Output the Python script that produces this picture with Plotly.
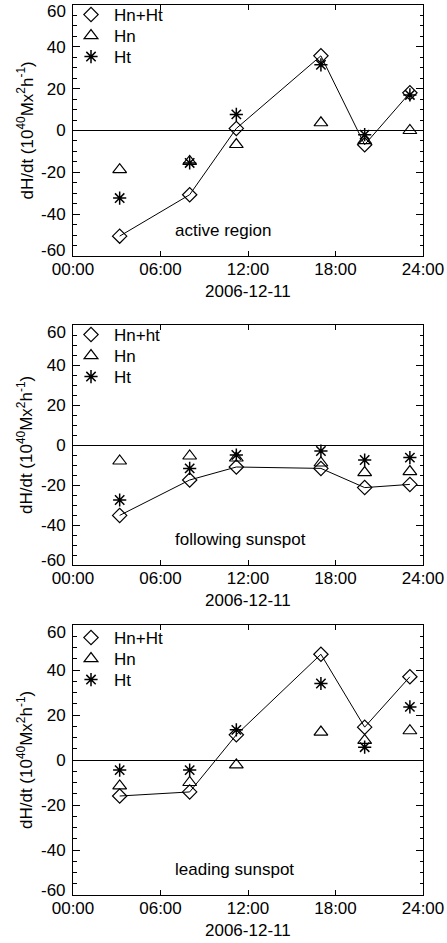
import plotly.graph_objects as go

# time of each measurement, hours after 2006-12-11 00:00
hours = [3.2, 8.0, 11.2, 17.0, 20.0, 23.1]

# active region
ar_sum = [-50.5, -30.7, 1.0, 35.7, -6.8, 18.0]
ar_hn = [-18.7, -14.8, -6.7, 3.7, -4.8, 0.0]
ar_ht = [-32.3, -15.5, 7.7, 31.4, -2.0, 17.0]

# following sunspot
fs_sum = [-35.2, -17.5, -11.0, -11.7, -21.3, -19.7]
fs_hn = [-8.0, -5.5, -6.5, -9.0, -13.8, -13.3]
fs_ht = [-27.5, -11.7, -5.0, -3.0, -7.5, -6.3]

# leading sunspot
ls_sum = [-16.0, -14.2, 11.2, 47.0, 14.6, 37.0]
ls_hn = [-11.5, -10.0, -2.2, 12.4, 8.7, 13.0]
ls_ht = [-4.5, -4.5, 13.4, 34.0, 5.7, 23.6]

x_ticks = [0, 6, 12, 18, 24]
x_ticklabels = ["00:00", "06:00", "12:00", "18:00", "24:00"]
y_ticks = [-40, -20, 0, 20, 40]
y_ticklabels = ["-40", "-20", "0", "20", "40"]
# end labels of the y range, drawn pulled inward as in the original
y_end_ticks = [60, -60]
y_end_ticklabels = ["60", "-60"]
date_label = "2006-12-11"
y_title = "dH/dt (10<sup>40</sup>Mx<sup>2</sup>h<sup>-1</sup>)"

panels = [
    dict(sum=ar_sum, hn=ar_hn, ht=ar_ht, sumname="Hn+Ht", label="active region"),
    dict(sum=fs_sum, hn=fs_hn, ht=fs_ht, sumname="Hn+ht", label="following sunspot"),
    dict(sum=ls_sum, hn=ls_hn, ht=ls_ht, sumname="Hn+Ht", label="leading sunspot"),
]

W, H = 447, 943
FONT = "Arial, 'Liberation Sans', sans-serif"
# pixel boxes (left, top, right, bottom) of each plot frame
boxes = [(73, 5, 423, 256), (73, 325, 423, 565), (73, 625, 423, 895)]
LEG_ROWS = [10, 31, 52]  # legend row centres, px below each frame top
LEG_SHIFT = [0, 0, 3]


def px(xs):
    return xs / W


def py(ys):
    return 1 - ys / H


fig = go.Figure()
annotations = []
leg_idx = 0
for i, (p, box) in enumerate(zip(panels, boxes)):
    n = "" if i == 0 else str(i + 1)
    xa, ya = "x" + n, "y" + n
    l, t, r, b = box

    legs = []
    for k in range(3):
        leg_idx += 1
        name = "legend" if leg_idx == 1 else "legend%d" % leg_idx
        legs.append(name)
        fig.layout[name] = dict(
            x=px(l - 5), y=py(t + LEG_ROWS[k] + LEG_SHIFT[i]), xanchor="left",
            yanchor="middle", bgcolor="rgba(0,0,0,0)", borderwidth=0, itemwidth=36,
            font=dict(family=FONT, size=17, color="black"),
        )

    fig.add_trace(go.Scatter(x=hours, y=p["sum"], mode="lines",
                             line=dict(color="black", width=1),
                             showlegend=False, xaxis=xa, yaxis=ya, hoverinfo="skip"))
    fig.add_trace(go.Scatter(x=hours, y=p["sum"], mode="markers", name=p["sumname"],
                             marker=dict(symbol="diamond-open", size=11, color="black",
                                         line=dict(width=1.2, color="black")),
                             xaxis=xa, yaxis=ya, legend=legs[0]))
    fig.add_trace(go.Scatter(x=hours, y=p["hn"], mode="markers", name="Hn",
                             marker=dict(symbol="triangle-up-open", size=12, color="black",
                                         line=dict(width=1.2, color="black")),
                             xaxis=xa, yaxis=ya, legend=legs[1]))
    fig.add_trace(go.Scatter(x=hours, y=p["ht"], mode="markers", name="Ht",
                             marker=dict(symbol="asterisk-open", size=11, color="black",
                                         line=dict(width=1.5, color="black")),
                             xaxis=xa, yaxis=ya, legend=legs[2]))

    fig.layout["xaxis" + n] = dict(
        domain=[px(l), px(r)], anchor=ya, range=[0, 24], tickmode="array",
        automargin=False, tickvals=x_ticks, ticktext=x_ticklabels, ticks="inside",
        ticklen=5, tickwidth=1, tickcolor="black", showline=True, linecolor="black",
        linewidth=1, mirror="ticks", showgrid=False, zeroline=False,
        ticklabeloverflow="allow",
        tickfont=dict(family=FONT, size=17, color="black"), ticklabelstandoff=-2,
    )
    fig.layout["yaxis" + n] = dict(
        domain=[py(b), py(t)], anchor=xa, range=[-60, 60], tickmode="array",
        automargin=False, tickvals=y_ticks, ticktext=y_ticklabels, ticks="inside",
        ticklen=7, tickwidth=1, tickcolor="black", showline=True, linecolor="black",
        linewidth=1, mirror="ticks", showgrid=False, zeroline=True,
        zerolinecolor="black", zerolinewidth=1, ticklabeloverflow="allow",
        minor=dict(ticks="inside", ticklen=3.5, dtick=5, tick0=0, tickcolor="black",
                   tickwidth=1, showgrid=False),
        tickfont=dict(family=FONT, size=17, color="black"), ticklabelstandoff=3,
    )
    for val, lab in zip(y_end_ticks, y_end_ticklabels):
        annotations.append(dict(xref=xa + " domain", x=0, xanchor="right", xshift=-5,
                                yref=ya, y=val, yanchor="middle",
                                yshift=-7 if val > 0 else 5,
                                text=lab, showarrow=False,
                                font=dict(family=FONT, size=17, color="black")))
    annotations.append(dict(xref="paper", yref="paper", x=px((l + r) / 2),
                            y=py(b + 35), text=date_label, showarrow=False,
                            font=dict(family=FONT, size=17, color="black"),
                            xanchor="center", yanchor="middle"))
    annotations.append(dict(xref="paper", yref="paper", x=px(25),
                            y=py((t + b) / 2), text=y_title, textangle=-90,
                            showarrow=False, font=dict(family=FONT, size=17, color="black"),
                            xanchor="center", yanchor="middle"))
    annotations.append(dict(xref="paper", yref="paper", x=px(173),
                            y=py(b - 26), text=p["label"], showarrow=False,
                            font=dict(family=FONT, size=17, color="black"),
                            xanchor="left", yanchor="middle"))

fig.update_layout(width=W, height=H, margin=dict(l=0, r=0, t=0, b=0, autoexpand=False),
                  paper_bgcolor="white", plot_bgcolor="white",
                  annotations=annotations, font=dict(family=FONT, color="black"))
fig.write_html("out.html", config={"displayModeBar": False},
               post_script="document.body.style.margin = '0px';")
